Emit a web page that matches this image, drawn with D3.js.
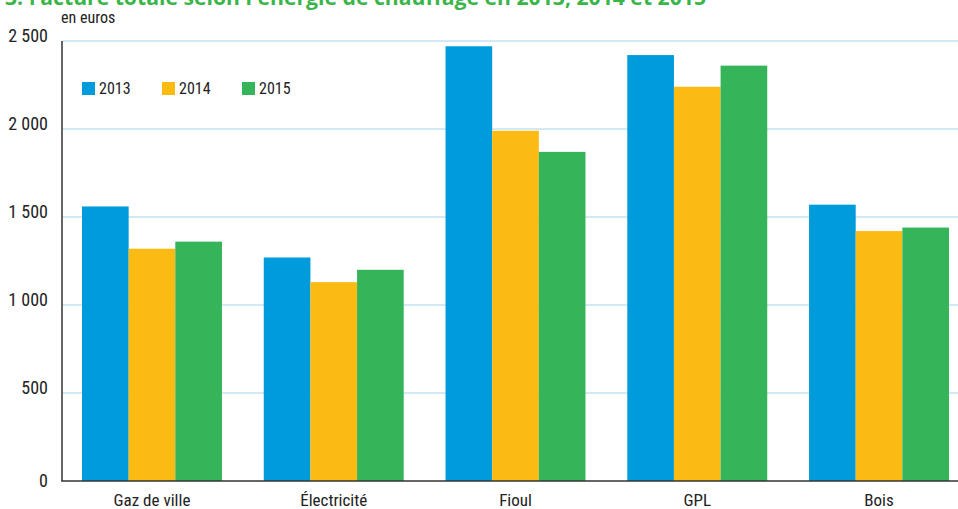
<!DOCTYPE html>
<html><head><meta charset="utf-8">
<script src="https://cdn.jsdelivr.net/npm/d3@7"></script>
<style>
html,body{margin:0;padding:0;background:#fff;}
svg{display:block;}
.narrow{font-family:"Liberation Sans Narrow","Arial Narrow","Roboto Condensed","Liberation Sans",sans-serif;}
</style></head>
<body><svg id="c" width="958" height="509"></svg>
<script>
const title = "3. Facture totale selon l'énergie de chauffage en 2013, 2014 et 2015";
const unitLabel = "en euros";
const categories = ["Gaz de ville", "Électricité", "Fioul", "GPL", "Bois"];
const years = ["2013", "2014", "2015"];
const values2013 = [1560, 1270, 2470, 2420, 1570];
const values2014 = [1320, 1130, 1990, 2240, 1420];
const values2015 = [1360, 1200, 1870, 2360, 1440];
const yTicks = [0, 500, 1000, 1500, 2000, 2500];
const colors = ["#009bdb", "#fcbb13", "#35b45a"];

(function () {
const series = [values2013, values2014, values2015];
const svg = d3.select("#c");
const yAxisX = 62, plotRight = 958, plotTop = 41, plotBottom = 481;

const y = d3.scaleLinear().domain([0, 2500]).range([plotBottom, plotTop]);
const x0 = d3.scaleBand().domain(categories).range([82, 949]).paddingInner(0.23).paddingOuter(0);
const x1 = d3.scaleBand().domain(years).range([0, x0.bandwidth()]).padding(0);

// title (cut at top)
svg.append("text").attr("x", 5).attr("y", 5)
  .attr("font-family", "'Open Sans', 'Noto Sans', sans-serif").attr("font-weight", "bold")
  .attr("font-size", 21).attr("fill", "#3ab54a")
  .attr("textLength", 701).attr("lengthAdjust", "spacingAndGlyphs")
  .text(title);

// gridlines
const fmt = d => d === 0 ? "0" : d3.format(",")(d).replace(/,/g, " ");
svg.append("g").selectAll("line").data(yTicks.filter(d => d > 0)).join("line")
  .attr("x1", yAxisX).attr("x2", plotRight)
  .attr("y1", d => y(d)).attr("y2", d => y(d))
  .attr("stroke", "#c3e2f4").attr("stroke-width", 1.5);

// y tick labels
svg.append("g").selectAll("text").data(yTicks).join("text")
  .attr("class", "narrow")
  .attr("x", 48).attr("y", d => y(d) + (d === 0 ? 6 : 1))
  .attr("text-anchor", "end").attr("font-size", 18).attr("fill", "#222")
  .text(fmt);

svg.append("text").attr("class", "narrow").attr("x", 61).attr("y", 23)
  .attr("font-size", 16).attr("fill", "#222").text(unitLabel);

// bars
const groups = svg.append("g").selectAll("g").data(categories).join("g")
  .attr("transform", c => `translate(${x0(c)},0)`);
groups.selectAll("rect").data((c, i) => years.map((yr, j) => ({yr, v: series[j][i], j}))).join("rect")
  .attr("x", d => x1(d.yr)).attr("width", x1.bandwidth())
  .attr("y", d => y(d.v)).attr("height", d => y(0) - y(d.v))
  .attr("fill", d => colors[d.j]);

// axes lines
svg.append("line").attr("x1", yAxisX).attr("x2", yAxisX).attr("y1", plotTop).attr("y2", plotBottom)
  .attr("stroke", "#333").attr("stroke-width", 1.5);
svg.append("line").attr("x1", yAxisX - 0.75).attr("x2", plotRight).attr("y1", plotBottom).attr("y2", plotBottom)
  .attr("stroke", "#333").attr("stroke-width", 1.5);

// category labels
svg.append("g").selectAll("text").data(categories).join("text")
  .attr("class", "narrow")
  .attr("x", c => x0(c) + x0.bandwidth() / 2).attr("y", 506)
  .attr("text-anchor", "middle").attr("font-size", 17).attr("fill", "#222")
  .text(c => c);

// legend
const lg = svg.append("g").selectAll("g").data(years).join("g")
  .attr("transform", (d, i) => `translate(${82 + i * 80},82)`);
lg.append("rect").attr("width", 13).attr("height", 13).attr("fill", (d, i) => colors[i]);
lg.append("text").attr("class", "narrow").attr("x", 17).attr("y", 12)
  .attr("font-size", 16).attr("fill", "#222").text(d => d);
})();
</script></body></html>
